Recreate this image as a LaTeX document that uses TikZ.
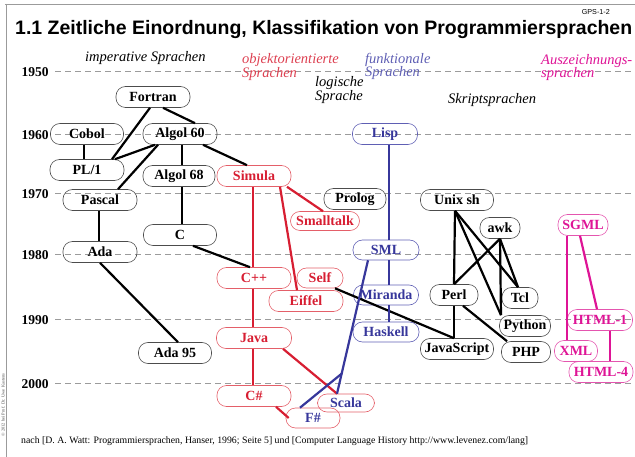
\documentclass[tikz,border=0pt]{standalone}
\usepackage{fontspec}
\setmainfont{Liberation Serif}
\setsansfont{Liberation Sans}
\usetikzlibrary{calc}
\definecolor{oored}{RGB}{215,30,50}
\definecolor{oobord}{RGB}{228,95,105}
\definecolor{fnblue}{RGB}{55,55,155}
\definecolor{fnbord}{RGB}{95,95,180}
\definecolor{mkmag}{RGB}{222,20,150}
\definecolor{mkbord}{RGB}{228,85,175}
\definecolor{guide}{RGB}{155,155,155}
\tikzset{
 lang/.style={draw=black!70, line width=0.6pt, rounded corners=9.5pt, minimum height=21pt, inner sep=0pt, font=\fontsize{14}{16}\selectfont\bfseries},
 oolang/.style={lang, draw=oobord, text=oored},
 fnlang/.style={lang, draw=fnbord, text=fnblue},
 hylang/.style={lang, draw=oobord, text=fnblue},
 mklang/.style={lang, draw=mkbord, text=mkmag},
 link/.style={line width=2.2pt, draw=black},
 oolink/.style={link, draw=oored},
 fnlink/.style={link, draw=fnblue},
 mklink/.style={link, draw=mkmag},
 year/.style={font=\fontsize{13.5}{15}\selectfont\bfseries, inner sep=0pt},
 guideline/.style={draw=guide, line width=0.8pt, dash pattern=on 6pt off 4pt},
 cat/.style={font=\fontsize{14.5}{16}\selectfont\itshape, inner sep=0pt, anchor=base west},
}
\begin{document}
\begin{tikzpicture}[x=1pt,y=-1pt]
\useasboundingbox (0,0) rectangle (635,457);
% frame
\draw[draw=guide, line width=0.8pt] (5,4) -- (635,4);
\draw[draw=guide, line width=0.8pt] (6,4) -- (6,457);
\node[rotate=90, font=\fontsize{4.5}{5}\selectfont, inner sep=0pt, text=black!70] (copy) at (3,405) {© 2012 bei Prof. Dr. Uwe Kastens};
% title
\node[anchor=base east, inner sep=0pt, font=\fontsize{7.2}{8}\selectfont\sffamily] (gps) at (610,15) {GPS-1-2};
\node[anchor=base west, inner sep=0pt] (title) at (15,35) {\resizebox{617pt}{!}{\fontsize{19.2}{22}\selectfont\sffamily\bfseries 1.1 Zeitliche Einordnung, Klassifikation von Programmiersprachen}};
% years and guide lines
\foreach \yr/\yy in {1950/71,1960/134,1970/193,1980/254,1990/319,2000/383}{
  \node[year] (y\yr) at (35,\yy+1) {\yr};
  \draw[guideline] (55,\yy) -- (635,\yy);
}
% category labels
\node[cat] (imp) at (85,62) {imperative Sprachen};
\node[cat, text=oored!85] (oo1) at (242,64) {objektorientierte};
\node[cat, text=oored!85] (oo2) at (242,78) {Sprachen};
\node[cat, text=fnbord] (fn1) at (365,64) {funktionale};
\node[cat, text=fnbord] (fn2) at (365,77) {Sprachen};
\node[cat] (lg1) at (315,87) {logische};
\node[cat] (lg2) at (315,101) {Sprache};
\node[cat] (scr) at (448,104) {Skriptsprachen};
\node[cat, text=mkmag] (mk1) at (541,65) {Auszeichnungs-};
\node[cat, text=mkmag] (mk2) at (541,78) {sprachen};
% imperative
\node[lang, minimum width=74pt] (fortran) at (153,97) {Fortran};
\node[lang, minimum width=73pt] (cobol) at (87,134) {Cobol};
\node[lang, minimum width=74pt] (algolsx) at (180,134) {Algol 60};
\node[lang, minimum width=74pt] (pl1) at (87,170) {PL/1};
\node[lang, minimum width=72pt] (algolse) at (179,176) {Algol 68};
\node[lang, minimum width=74pt] (pascal) at (100,200) {Pascal};
\node[lang, minimum width=73pt] (c) at (180,235) {C};
\node[lang, minimum width=74pt] (ada) at (100,252) {Ada};
\node[lang, minimum width=73pt] (ada95) at (175,353) {Ada 95};
% logic
\node[lang, minimum width=62pt] (prolog) at (355,199) {Prolog};
% scripts
\node[lang, minimum width=73pt] (unixsh) at (457,200) {Unix sh};
\node[lang, minimum width=40pt] (awk) at (500,228) {awk};
\node[lang, minimum width=48pt] (perl) at (454,295) {Perl};
\node[lang, minimum width=36pt] (tcl) at (520,298) {Tcl};
\node[lang, minimum width=51pt] (python) at (525,326) {Python};
\node[lang, minimum width=73pt] (js) at (457,349) {JavaScript};
\node[lang, minimum width=49pt] (php) at (526,352) {PHP};
% object oriented
\node[oolang, minimum width=74pt] (simula) at (254,176) {Simula};
\node[oolang, minimum width=69pt, minimum height=19pt] (smalltalk) at (325,221) {Smalltalk};
\node[oolang, minimum width=74pt] (cpp) at (254,278) {C++};
\node[oolang, minimum width=46pt, minimum height=20pt] (self) at (320,278) {Self};
\node[oolang, minimum width=74pt] (eiffel) at (306,301) {Eiffel};
\node[oolang, minimum width=75pt] (java) at (254,338) {Java};
\node[oolang, minimum width=74pt] (csharp) at (254,396) {C\#};
\node[hylang, minimum width=57pt, minimum height=18pt] (scala) at (346,403) {Scala};
\node[hylang, minimum width=54pt, minimum height=20pt] (fsharp) at (313,418) {F\#};
% functional
\node[fnlang, minimum width=65pt] (lisp) at (385,134) {Lisp};
\node[fnlang, minimum width=66pt, minimum height=20pt] (sml) at (386,250) {SML};
\node[fnlang, minimum width=65pt, minimum height=20pt] (miranda) at (386,295) {Miranda};
\node[fnlang, minimum width=66pt, minimum height=20pt] (haskell) at (386,332) {Haskell};
% markup
\node[mklang, minimum width=50pt] (sgml) at (583,225) {SGML};
\node[mklang, minimum width=65pt] (html1) at (600,320) {HTML-1};
\node[mklang, minimum width=43pt] (xml) at (576,351) {XML};
\node[mklang, minimum width=64pt] (html4) at (601,372) {HTML-4};
% black connectors
\draw[link] ([xshift=-3pt]fortran.south) -- ([xshift=25pt]pl1.north);
\draw[link] ([xshift=10pt]fortran.south) -- ([xshift=15pt]algolsx.north);
\draw[link] ([xshift=-3pt]cobol.south) -- ([xshift=-3pt]pl1.north);
\draw[link] ([xshift=-25pt]algolsx.south) -- ([xshift=28pt]pl1.north);
\draw[link] ([xshift=-22pt]algolsx.south) -- ([xshift=18pt]pascal.north);
\draw[link] ([xshift=2pt]algolsx.south) -- ([xshift=3pt]algolse.north);
\draw[link] ([xshift=23pt]algolsx.south) -- ([xshift=-7pt]simula.north);
\draw[link] ([xshift=3pt]algolse.south) -- ([xshift=2pt]c.north);
\draw[link] ([xshift=-1pt]pascal.south) -- ([xshift=-1pt]ada.north);
\draw[link] ([xshift=13pt]c.south) -- ([xshift=-4pt]cpp.north);
\draw[link] (ada.south) -- ([xshift=3pt]ada95.north);
\draw[link] ([xshift=15pt]self.south) -- ([xshift=-3pt]js.north);
\draw[link] ([xshift=-2pt]unixsh.south) -- (perl.north);
\draw[link] ([xshift=-2pt]unixsh.south) -- ([xshift=-2pt]tcl.north);
\draw[link] ([xshift=-2pt]unixsh.south) -- ([xshift=-24pt]python.north);
\draw[link] (awk.south) -- (perl.north);
\draw[link] (awk.south) -- ([xshift=-2pt]tcl.north);
\draw[link] (awk.south) -- ([xshift=-24pt]python.north);
\draw[link] (perl.south) -- ([xshift=-3pt]js.north);
\draw[link] ([xshift=9pt]perl.south) -- ([xshift=-19pt]php.north);
% object oriented connectors
\draw[oolink] ([xshift=-1pt]simula.south) -- ([xshift=-1pt]cpp.north);
\draw[oolink] ([xshift=33pt]simula.south) -- ([xshift=-2pt]smalltalk.north);
\draw[oolink] ([xshift=26pt]simula.south) -- ([xshift=-9pt]eiffel.north);
\draw[oolink] ([xshift=-1pt]cpp.south) -- ([xshift=-1pt]java.north);
\draw[oolink] ([xshift=-1pt]java.south) -- ([xshift=-1pt]csharp.north);
\draw[oolink] ([xshift=29pt]java.south) -- ([xshift=-9pt]scala.north);
\draw[oolink] ([xshift=22pt]csharp.south) -- ([xshift=3pt]fsharp.west);
% functional connectors
\draw[fnlink] ([xshift=4pt]lisp.south) -- ([xshift=3pt]sml.north);
\draw[fnlink] ([xshift=3pt]sml.south) -- ([xshift=3pt]miranda.north);
\draw[fnlink] ([xshift=3pt]miranda.south) -- ([xshift=3pt]haskell.north);
\draw[fnlink] ([xshift=-18pt]sml.south) -- coordinate[pos=0.85] (fsplit) ([xshift=-9pt]scala.north);
\draw[fnlink] (fsplit) -- ([xshift=-13pt]fsharp.north);
% markup connectors
\draw[mklink] ([xshift=-16pt]sgml.south) -- ([xshift=-9pt]xml.north);
\draw[mklink] ([xshift=-3pt]sgml.south) -- ([xshift=-3pt]html1.north);
\draw[mklink] ([xshift=10pt]html1.south) -- ([xshift=9pt]html4.north);
% source
\node[anchor=base west, inner sep=0pt] (source) at (21,443) {\resizebox{507pt}{!}{\fontsize{9.6}{11}\selectfont nach [D. A. Watt: Programmiersprachen, Hanser, 1996; Seite 5] und [Computer Language History http://www.levenez.com/lang]}};
\end{tikzpicture}
\end{document}
